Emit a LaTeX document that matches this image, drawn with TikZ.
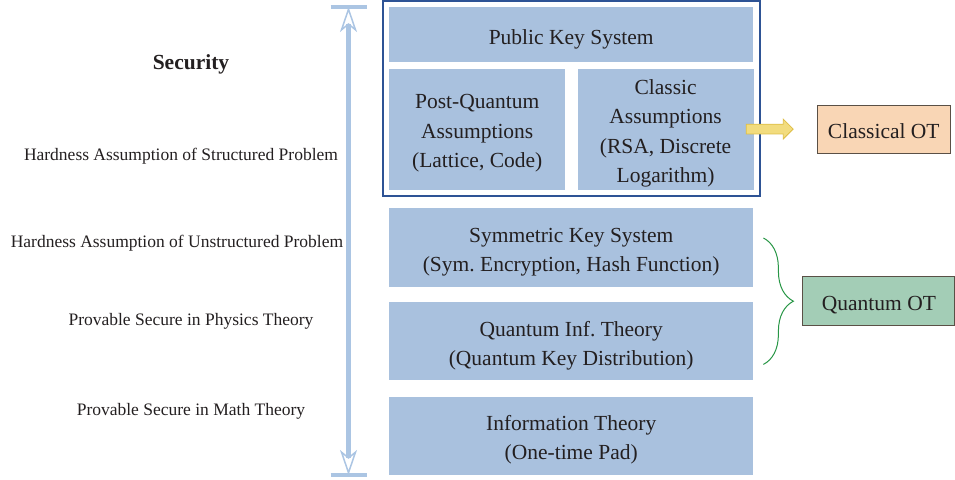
\documentclass[tikz,border=0pt]{standalone}
\usepackage{fontspec}
\setmainfont{Liberation Serif}
\usetikzlibrary{arrows.meta,calc}
\usetikzlibrary{decorations.pathreplacing}
\usetikzlibrary{positioning,shapes,shapes.arrows,fit}

\definecolor{layerblue}{RGB}{169,193,222}
\definecolor{frameblue}{RGB}{46,83,149}
\definecolor{scaleblue}{RGB}{171,197,227}
\definecolor{otorange}{RGB}{249,214,181}
\definecolor{otgreen}{RGB}{163,205,182}
\definecolor{otborder}{RGB}{90,80,70}
\definecolor{bracegreen}{RGB}{40,150,70}
\definecolor{arrowgold}{RGB}{242,220,126}
\definecolor{arrowedge}{RGB}{222,190,70}
\definecolor{inktext}{RGB}{35,31,32}

\newcommand{\layerfont}{\fontsize{21.5}{29.5}\selectfont\frenchspacing}
\newcommand{\sidefont}{\fontsize{17.5}{21}\selectfont}
\newcommand{\layertext}[1]{%
  \raisebox{-3.5pt}[\height][\depth]{\begin{tabular}{@{}c@{}}#1\end{tabular}}}

\tikzstyle{layerbox}=[rectangle, fill=layerblue, text=inktext, inner sep=0pt,
		font=\layerfont]
\tikzstyle{pkbox}=[rectangle, draw=frameblue, line width=1.5pt]
\tikzstyle{sidelabel}=[text=inktext, font=\sidefont, inner sep=0pt]
\tikzstyle{otbox}=[rectangle, draw=otborder, line width=1pt, text=inktext,
		font=\layerfont, inner sep=0pt]
\tikzstyle{scalearrow}=[scaleblue, line width=5pt]

\begin{document}
\begin{tikzpicture}[x=1pt,y=1pt]
    \useasboundingbox (0,0) rectangle (955,479);

    \node (pks) [layerbox, minimum width=364pt, minimum height=55pt,
    		     anchor=north west] at (389,472) {\layertext{Public Key System}};

    \node (pq) [layerbox, minimum width=176pt, minimum height=121pt,
    		    below=6pt of pks.south west, anchor=north west]
      {\layertext{Post-Quantum\\Assumptions\\(Lattice, Code)}};

    \node (cl) [layerbox, minimum width=176pt, minimum height=121pt,
    		    right=12pt of pq]
      {\layertext{Classic\\Assumptions\\(RSA, Discrete\\Logarithm)}};

    \node (pkframe) [pkbox, fit=(pks)(pq)(cl), inner sep=6pt] {};

    \node (sym) [layerbox, minimum width=364pt, minimum height=79pt,
    		     below=18pt of pq.south west, anchor=north west]
      {\layertext{Symmetric Key System\\(Sym. Encryption, Hash Function)}};

    \node (qit) [layerbox, minimum width=364pt, minimum height=78pt,
    		     below=15pt of sym]
      {\layertext{Quantum Inf. Theory\\(Quantum Key Distribution)}};

    \node (inf) [layerbox, minimum width=364pt, minimum height=78pt,
    		     below=16pt of qit]
      {\layertext{Information Theory\\(One-time Pad)}};

    % security scale
    \coordinate (stop) at (348.5,0 |- pks.north);
    \coordinate (sbot) at (348.5,0 |- inf.south);
    \draw [scalearrow,
           {Stealth[open,length=25pt,width=17pt,inset=7pt,line width=1.5pt]}-{Stealth[open,length=25pt,width=17pt,inset=7pt,line width=1.5pt]}]
      (sbot) -- (stop);
    \draw [scalearrow, line width=3.5pt] ([xshift=-18pt]stop) -- ([xshift=18pt]stop);
    \draw [scalearrow, line width=3.5pt] ([xshift=-18pt]sbot) -- ([xshift=18pt]sbot);

    \node (sec) [sidelabel, font=\fontsize{21.5}{26}\selectfont\bfseries]
      at (191,415) {Security};
    \node (hsp) [sidelabel] at (181,323) {Hardness Assumption of Structured Problem};
    \node (hup) [sidelabel] at (177,236) {Hardness Assumption of Unstructured Problem};
    \node (pps) [sidelabel] at (191,158) {Provable Secure in Physics Theory};
    \node (pms) [sidelabel] at (191,68) {Provable Secure in Math Theory};

    % classical branch
    \node (yarrow) [single arrow, draw=arrowedge, fill=arrowgold, line width=0.8pt,
    		        minimum height=47pt, inner xsep=0pt, inner ysep=4.5pt,
    		        single arrow head extend=5pt, single arrow head indent=0pt,
    		        anchor=west] at ([xshift=-8pt]cl.east) {};
    \node (cot) [otbox, fill=otorange, minimum width=133pt, minimum height=48pt,
    		     right=23pt of yarrow.tip] {\layertext{Classical OT}};

    % quantum branch
    \coordinate (btop) at ([xshift=10pt,yshift=9.5pt]sym.east);
    \coordinate (bbot) at ([xshift=10pt,yshift=-23pt]qit.east);
    \coordinate (btip) at ($(btop)!0.5!(bbot)+(30pt,0)$);
    \draw [bracegreen, line width=1pt, decorate,
           decoration={brace, amplitude=30pt}] (btop) -- (bbot);
    \node (qot) [otbox, fill=otgreen, minimum width=152pt, minimum height=49pt,
    		     right=9pt of btip] {\layertext{Quantum OT}};

\end{tikzpicture}
\end{document}
